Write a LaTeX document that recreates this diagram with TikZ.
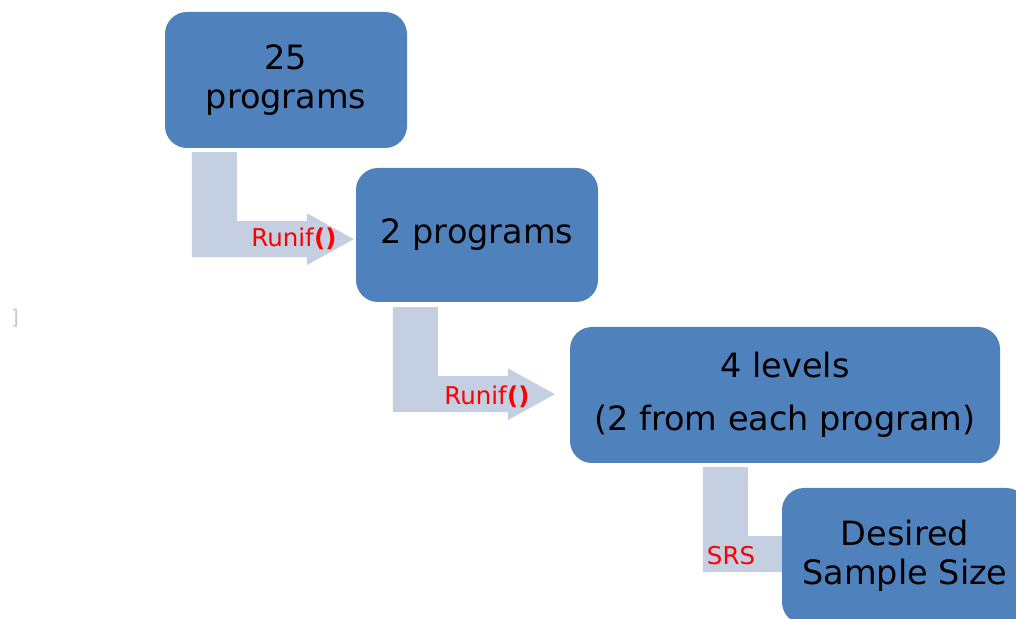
\documentclass[tikz,border=0pt]{standalone}
\usepackage{fontspec}
\setmainfont{DejaVu Sans}
\usetikzlibrary{calc}

\definecolor{boxblue}{RGB}{79,129,189}
\definecolor{arrowgrey}{RGB}{197,207,226}

\begin{document}
\begin{tikzpicture}[x=1pt, y=1pt,
        stage/.style={fill=boxblue, rounded corners=22pt, align=center, inner sep=0pt,
            font=\fontsize{33.5}{39}\selectfont},
        rulelabel/.style={text=red, inner sep=0pt, font=\fontsize{24.5}{28}\selectfont}]
            \useasboundingbox (0,0) rectangle (1016,618);
            \clip (0,0) rectangle (1016,618);

            \node[text=black!22, font=\fontsize{20}{22}\selectfont] (mark) at (15,300) {]};

            \node[stage, minimum width=242, minimum height=136] (b1) at (286,538) {25\\programs};
            \node[stage, minimum width=242, minimum height=134] (b2) at (477,383) {2 programs};
            \node[stage, minimum width=430, minimum height=136] (b3) at (785,223)
                {4 levels\\[14pt](2 from each program)};

            % bent block arrows, hung below each box
            \foreach \from/\dx/\dy in {b1/27/-4, b2/37/-5, b3/133/-4}
                {
                    \fill[arrowgrey] ($(\from.south west)+(\dx,\dy)$) -- ++(45,0) -- ++(0,-69)
                        -- ++(70,0) -- ++(0,8) -- ++(47,-26) -- ++(-47,-26) -- ++(0,8)
                        -- ++(-115,0) -- cycle;
                }

            \node[stage, minimum width=246, minimum height=136] (b4) at (905,62)
                {Desired\\Sample Size};

            \node[rulelabel] (pick1) at (294,379) {Runif\textbf{()}};
            \node[rulelabel] (pick2) at (487,221) {Runif\textbf{()}};
            \node[rulelabel] (srs) at (731,62) {SRS};
    \end{tikzpicture}
\end{document}
